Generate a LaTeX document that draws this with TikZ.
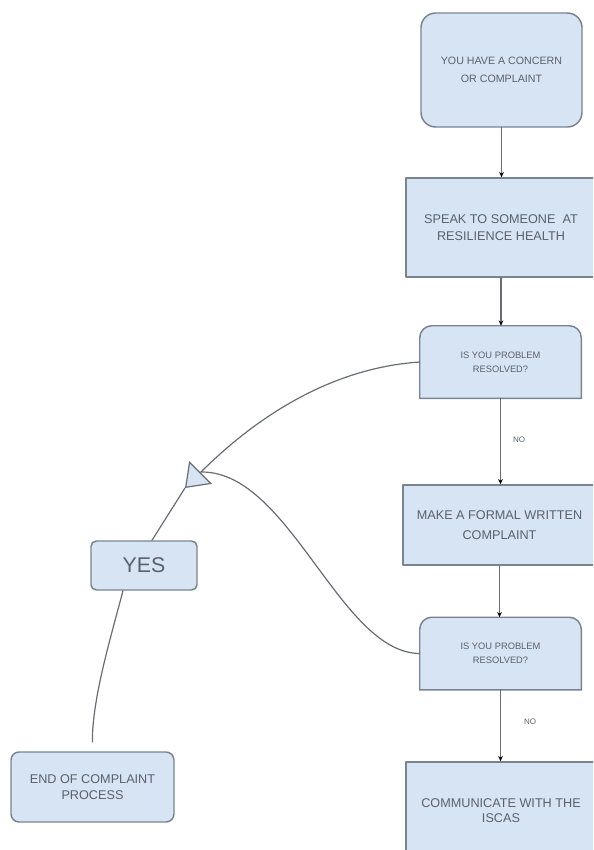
\documentclass[tikz,border=0pt]{standalone}
\usepackage{fontspec}
\setmainfont{Liberation Sans}
\usetikzlibrary{arrows.meta,backgrounds}
\definecolor{boxfill}{RGB}{214,228,243}
\definecolor{boxline}{RGB}{122,132,145}
\definecolor{boxtext}{RGB}{88,98,110}
\definecolor{linkgray}{RGB}{105,108,114}
\begin{document}
\begin{tikzpicture}[x=0.75pt, y=-0.75pt, line join=round, line cap=round,
	flowbox/.style={draw=boxline, fill=boxfill, line width=1.1pt, text=boxtext, align=center, inner sep=0pt},
	tabbox/.style={text=boxtext, align=center, inner sep=0pt, minimum width=120.75pt, minimum height=54pt, font=\fontsize{7}{10.5}\selectfont},
	link/.style={draw=linkgray, line width=0.9pt},
	down/.style={link, -{Stealth[length=4pt, width=3.5pt, black]}},
	nolabel/.style={text=boxtext, font=\fontsize{6}{6}\selectfont}]
	\useasboundingbox (0,0) rectangle (593,850); % khung trang
	\clip (0,0) rectangle (593,850);
	% cot ben phai
	\node[flowbox, rounded corners=11pt, minimum width=120.75pt, minimum height=85.5pt, font=\fontsize{8}{13.5}\selectfont] (concern) at (501.5,70) {YOU HAVE A CONCERN\\OR COMPLAINT};
	\node[flowbox, minimum width=142.5pt, minimum height=74.25pt, font=\fontsize{9.5}{12.75}\selectfont] (speak) at (501,227.5) {SPEAK TO SOMEONE\ \ AT\\RESILIENCE HEALTH};
	\node[tabbox] (resolvedA) at (500.5,362) {IS YOU PROBLEM\\RESOLVED?};
	\node[flowbox, minimum width=144.75pt, minimum height=60pt, font=\fontsize{9.5}{15}\selectfont] (formal) at (499.5,525) {MAKE A FORMAL WRITTEN\\COMPLAINT};
	\node[tabbox] (resolvedB) at (500.5,653.5) {IS YOU PROBLEM\\RESOLVED?};
	\node[flowbox, minimum width=142.5pt, minimum height=73.5pt, font=\fontsize{9.5}{11.25}\selectfont] (iscas) at (501,811) {COMMUNICATE WITH THE\\ISCAS};
	\begin{scope}[on background layer]
		\foreach \q in {resolvedA,resolvedB}
		\draw[draw=boxline, fill=boxfill, line width=1.1pt] (\q.south west) [rounded corners=9pt] -- (\q.north west) -- (\q.north east) [sharp corners] -- (\q.south east) -- cycle;
	\end{scope}
	% cot ben trai
	\node[flowbox, rounded corners=4pt, minimum width=79.5pt, minimum height=36.75pt, font=\fontsize{16}{16}\selectfont] (yes) at (144,565.5) {YES};
	\node[flowbox, rounded corners=6pt, minimum width=122.25pt, minimum height=52.5pt, font=\fontsize{9.5}{12.4}\selectfont] (endproc) at (92.5,787) {END OF COMPLAINT\\PROCESS};
	% mui ten doc
	\foreach \a/\b in {concern/speak,speak/resolvedA,resolvedA/formal,formal/resolvedB,resolvedB/iscas}
	\draw[down] (\a.south) -- (\a.south |- \b.north);
	\node[nolabel] (noA) at (519,440) {NO};
	\node[nolabel] (noB) at (530,722) {NO};
	% nhanh YES
	\coordinate (tip) at (185,488);
	\coordinate (base) at (202,472);
	\draw[link, -{Triangle[open, length=16.5pt, width=24pt, fill=boxfill]}] (resolvedA.west) .. controls (330,368) and (255,418) .. (tip);
	\draw[link] (resolvedB.west) .. controls (340,653) and (290,472) .. (base);
	\draw[link] (tip) -- ([xshift=6pt]yes.north);
	\draw[link, shorten >=7pt] ([xshift=-15.75pt]yes.south) .. controls (110,640) and (92,700) .. (endproc.north);
\end{tikzpicture}
\end{document}
